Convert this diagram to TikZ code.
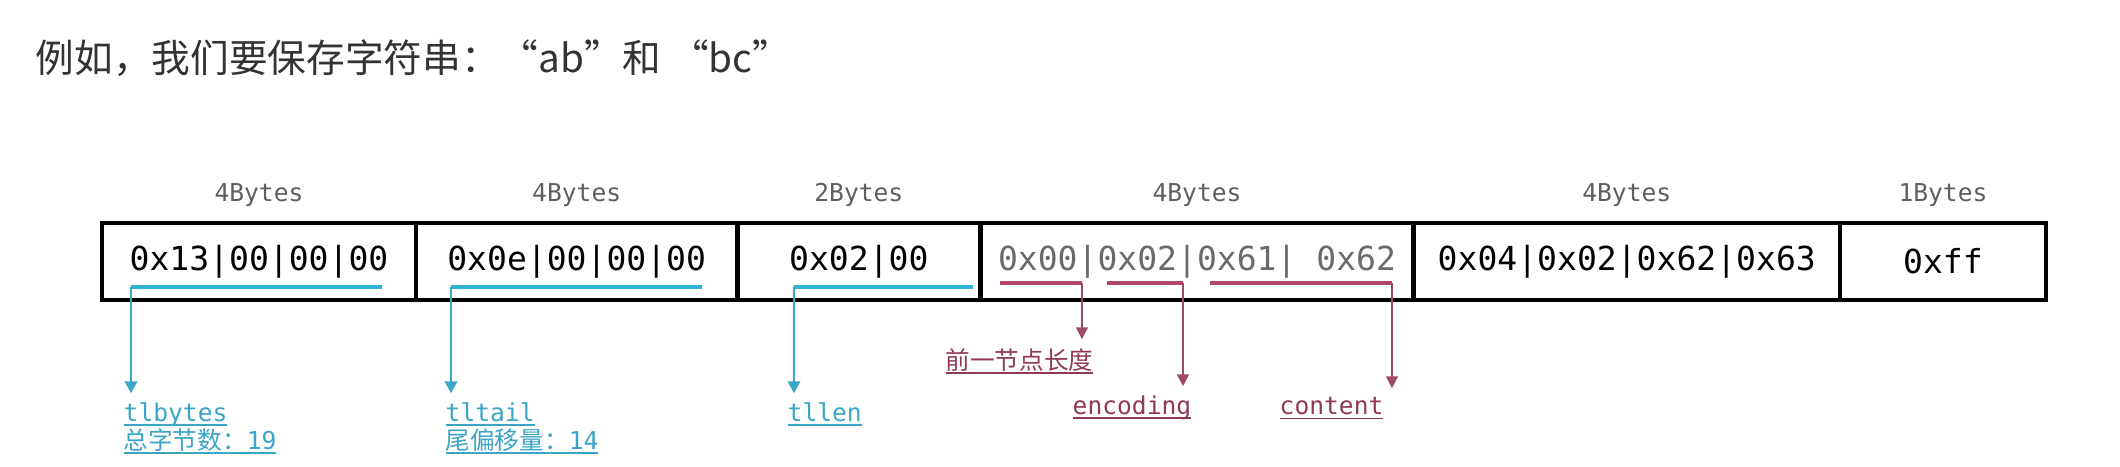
\documentclass[tikz,border=0pt]{standalone}
\usepackage{fontspec}
\setmonofont{DejaVu Sans Mono}
\newfontfamily\cjk{Noto Sans CJK SC}
\usepackage{xcolor}
\usetikzlibrary{arrows.meta, positioning}

\definecolor{tealbar}{HTML}{2FB4D3}
\definecolor{tealline}{HTML}{3AA8C8}
\definecolor{tealtxt}{HTML}{3BA5C6}
\definecolor{redbar}{HTML}{B14768}
\definecolor{redline}{HTML}{9E4B65}
\definecolor{redtxt}{HTML}{8F3A55}
\definecolor{cellgray}{HTML}{6A6A6A}
\definecolor{sizegray}{HTML}{5E5E5E}
\definecolor{titlegray}{HTML}{333333}

\newcommand{\uln}[1]{\setbox0\hbox{#1}\rlap{\rule[-1.25pt]{\wd0}{0.45pt}}\box0}

\begin{document}
\begin{tikzpicture}[x=0.01cm, y=-0.01cm,
    cell/.style={rectangle, draw=black, line width=1.3pt, outer sep=0pt, inner sep=0pt, minimum height=0.77cm, font=\ttfamily\fontsize{9.4pt}{11pt}\selectfont},
    sz/.style={font=\ttfamily\fontsize{7pt}{8pt}\selectfont, text=sizegray, inner sep=0pt},
    tbar/.style={draw=tealbar, line width=1.4pt},
    rbar/.style={draw=redbar, line width=1.4pt},
    tarr/.style={draw=tealline, line width=0.55pt, -{Triangle[length=3.4pt, width=3.6pt]}, shorten >=2.5pt},
    rarr/.style={draw=redline, line width=0.55pt, -{Triangle[length=3.4pt, width=3.4pt]}, shorten >=2.5pt},
    tlab/.style={font=\ttfamily\fontsize{7pt}{8pt}\selectfont, text=tealtxt, inner sep=0pt, align=left, anchor=north west},
    rlab/.style={font=\ttfamily\fontsize{7pt}{8pt}\selectfont, text=redtxt, inner sep=0pt, anchor=north west},
]
    \useasboundingbox (0,0) rectangle (2120,467);
    \node[anchor=west, inner sep=0pt, text=titlegray, font=\cjk\fontsize{11pt}{13pt}\selectfont] (title) at (35,58) {例如，我们要保存字符串：“ab”和 “bc”};

    \node[cell, minimum width=3.14cm] (c1) at (259,261.5) {0x13|00|00|00};
    \node[cell, minimum width=3.21cm, right=0pt of c1] (c2) {0x0e|00|00|00};
    \node[cell, minimum width=2.43cm, right=0pt of c2] (c3) {0x02|00};
    \node[cell, minimum width=4.33cm, right=0pt of c3, text=cellgray] (c4) {0x00|0x02|0x61| 0x62};
    \node[cell, minimum width=4.26cm, right=0pt of c4] (c5) {0x04|0x02|0x62|0x63};
    \node[cell, minimum width=2.06cm, right=0pt of c5] (c6) {0xff};

    \node[sz, above=0.16cm of c1] (s1) {4Bytes};
    \node[sz, above=0.16cm of c2] (s2) {4Bytes};
    \node[sz, above=0.16cm of c3] (s3) {2Bytes};
    \node[sz, above=0.16cm of c4] (s4) {4Bytes};
    \node[sz, above=0.16cm of c5] (s5) {4Bytes};
    \node[sz, above=0.16cm of c6] (s6) {1Bytes};

    \coordinate (t1) at (131,287);
    \coordinate (t2) at (451,287);
    \coordinate (t3) at (794,287);
    \coordinate (ra) at (1082,283);
    \coordinate (rb) at (1183,283);
    \coordinate (rc) at (1392,283);
    \draw[tbar] (t1) -- ++(251,0);
    \draw[tbar] (t2) -- ++(251,0);
    \draw[tbar] (t3) -- ++(179,0);
    \draw[rbar] (1000,283) -- (ra);
    \draw[rbar] (1107,283) -- (rb);
    \draw[rbar] (1210,283) -- (rc);

    \node[tlab] (lbytes) at (123,402) {\uln{tlbytes}\\\uln{{\cjk 总字节数：}19}};
    \node[tlab] (ltail) at (445,402) {\uln{tltail}\\\uln{{\cjk 尾偏移量：}14}};
    \node[tlab] (llen) at (787,402) {\uln{tllen}};
    \node[rlab] (lprev) at (945,348) {\uln{\cjk 前一节点长度}};
    \node[rlab] (lenc) at (1072,395) {\uln{encoding}};
    \node[rlab] (lcont) at (1279,397) {\uln{content}};

    \draw[tarr] (t1) -- (t1 |- lbytes.north);
    \draw[tarr] (t2) -- (t2 |- ltail.north);
    \draw[tarr] (t3) -- (t3 |- llen.north);
    \draw[rarr] (ra) -- (ra |- lprev.north);
    \draw[rarr] (rb) -- (rb |- lenc.north);
    \draw[rarr] (rc) -- (rc |- lcont.north);
\end{tikzpicture}
\end{document}
